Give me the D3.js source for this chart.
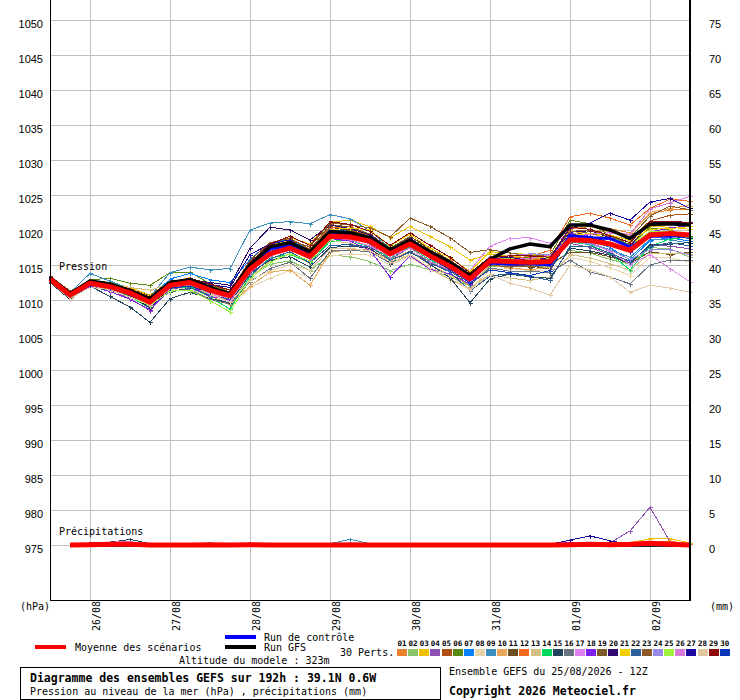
<!DOCTYPE html>
<html><head><meta charset="utf-8">
<script src="https://cdn.jsdelivr.net/npm/d3@7"></script>
<style>
body{margin:0;background:#fff}
svg{display:block}
text{font-family:"DejaVu Sans Mono",monospace;font-size:10px;fill:#000}
</style>
</head><body>
<svg id="c" width="740" height="700"></svg>
<script>
// ---------- DATA ----------
const hours = [0,6,12,18,24,30,36,42,48,54,60,66,72,78,84,90,96,102,108,114,120,126,132,138,144,150,156,162,168,174,180,186,192];
const dateHours = [12,36,60,84,108,132,156,180];
const dateLabels = ["26/08","27/08","28/08","29/08","30/08","31/08","01/09","02/09"];
const pressureTicks = [975,980,985,990,995,1000,1005,1010,1015,1020,1025,1030,1035,1040,1045,1050];
const rainTicks = [0,5,10,15,20,25,30,35,40,45,50,55,60,65,70,75];
const memberNames = ["01","02","03","04","05","06","07","08","09","10","11","12","13","14","15","16","17","18","19","20","21","22","23","24","25","26","27","28","29","30"];
const memberColors = ["#e8822e","#88c46c","#f0c000","#8c50b0","#b05010","#5a8a10","#0080ff","#e8d4a8","#3a8ec0","#e8a858","#6b4f1e","#f26a20","#d4c080","#00d860","#24445e","#687480","#e080f0","#8020f0","#805a28","#300a70","#f0d000","#2a5f9a","#8c5a28","#9a8ae8","#a0f040","#d878d8","#1c0aa0","#e0c8a0","#8a0a0a","#0a38b8"];

const meanPressure = [1013.0,1010.7,1012.4,1011.9,1011.0,1009.7,1012.1,1012.5,1011.4,1010.6,1014.4,1016.6,1017.4,1016.2,1019.1,1019.0,1018.4,1016.6,1018.0,1016.3,1014.8,1013.0,1015.6,1015.5,1015.4,1015.5,1018.6,1018.5,1018.0,1017.1,1019.3,1019.5,1019.3];
const gfsPressure = [1013.2,1010.9,1012.7,1012.3,1011.3,1010.2,1012.5,1012.9,1011.8,1010.9,1015.0,1017.6,1018.2,1016.9,1019.8,1019.6,1018.9,1017.2,1018.5,1016.9,1015.4,1013.5,1015.8,1017.3,1018.0,1017.6,1020.7,1020.7,1020.0,1018.8,1020.8,1020.9,1020.7];
const ctrlPressure = [1013.1,1010.8,1012.4,1012.0,1010.9,1009.9,1012.4,1012.7,1011.5,1010.9,1014.9,1017.3,1017.9,1016.5,1019.5,1019.3,1018.8,1016.8,1018.3,1016.7,1015.0,1013.3,1015.3,1015.1,1015.2,1015.0,1019.2,1018.9,1018.8,1017.6,1019.1,1019.1,1019.3];

const pert01 = [1013.1,1010.5,1012.6,1012.2,1011.2,1010.1,1012.4,1013.0,1012.0,1011.0,1015.2,1017.6,1018.3,1016.9,1019.9,1019.6,1018.9,1017.0,1018.6,1017.1,1015.7,1013.7,1016.0,1016.1,1015.9,1015.8,1020.1,1020.5,1020.2,1019.6,1022.3,1022.9,1022.9];
const pert02 = [1012.8,1010.7,1012.1,1011.7,1010.5,1009.1,1011.7,1012.0,1010.6,1009.4,1013.4,1015.1,1015.6,1014.2,1016.4,1016.2,1015.5,1014.2,1015.1,1014.3,1013.3,1012.0,1014.8,1014.9,1014.9,1014.8,1017.1,1016.7,1015.8,1015.1,1017.5,1017.3,1016.1];
const pert03 = [1013.2,1011.0,1012.8,1012.5,1011.8,1010.7,1012.6,1012.9,1011.9,1011.4,1015.0,1017.8,1018.9,1018.0,1021.1,1021.4,1020.5,1018.9,1020.5,1019.1,1017.6,1015.7,1016.6,1016.3,1016.0,1016.2,1019.9,1019.5,1018.8,1017.6,1020.5,1020.4,1020.1];
const pert04 = [1012.7,1010.3,1012.2,1011.4,1010.2,1008.5,1011.5,1011.8,1010.8,1009.7,1014.1,1016.4,1017.7,1016.7,1019.4,1019.0,1018.0,1015.8,1017.5,1015.4,1014.1,1012.6,1016.1,1016.3,1016.4,1016.1,1018.1,1017.5,1016.5,1015.3,1017.8,1017.7,1017.3];
const pert05 = [1013.3,1010.8,1012.4,1012.1,1011.1,1010.0,1012.3,1012.5,1011.2,1010.7,1014.9,1017.4,1018.6,1017.1,1020.5,1020.0,1019.2,1017.1,1018.7,1016.9,1015.3,1013.3,1015.4,1015.0,1014.8,1015.2,1019.1,1019.4,1019.2,1018.6,1021.3,1022.1,1022.3];
const pert06 = [1013.1,1011.0,1012.9,1013.1,1012.4,1012.1,1013.9,1014.0,1012.3,1011.1,1014.7,1017.2,1017.8,1016.4,1019.6,1019.3,1018.2,1016.8,1017.7,1016.3,1015.1,1013.5,1015.8,1015.9,1016.1,1016.4,1021.4,1020.9,1019.2,1017.9,1020.3,1020.0,1018.8];
const pert07 = [1013.0,1010.9,1012.7,1012.0,1011.3,1010.3,1013.0,1013.8,1012.9,1012.5,1015.8,1018.2,1018.6,1017.1,1020.1,1019.8,1018.9,1016.9,1018.4,1016.5,1014.8,1012.7,1015.2,1015.3,1015.5,1015.2,1018.9,1018.6,1017.5,1015.7,1018.5,1018.9,1018.4];
const pert08 = [1012.6,1010.5,1012.0,1011.3,1010.5,1009.3,1011.5,1011.7,1010.2,1008.8,1011.8,1013.1,1014.2,1013.2,1016.3,1016.6,1016.4,1015.0,1016.2,1014.3,1013.0,1011.5,1014.3,1014.5,1014.2,1014.1,1016.1,1015.5,1014.6,1013.5,1016.1,1016.0,1015.4];
const pert09 = [1013.1,1011.0,1013.8,1012.7,1011.6,1010.5,1013.9,1014.7,1014.3,1014.5,1020.0,1021.0,1021.2,1020.9,1022.2,1021.6,1019.9,1017.4,1018.9,1016.9,1015.2,1013.5,1015.6,1015.2,1015.0,1014.9,1018.6,1018.1,1017.2,1016.1,1018.7,1018.6,1018.1];
const pert10 = [1012.5,1010.1,1012.1,1011.7,1010.7,1009.6,1011.8,1012.1,1010.6,1009.3,1012.0,1014.0,1014.3,1012.1,1016.8,1017.2,1017.2,1015.7,1017.0,1015.0,1013.6,1012.1,1015.0,1014.6,1014.3,1014.7,1019.4,1020.0,1019.8,1019.3,1022.5,1023.1,1023.5];
const pert11 = [1013.2,1010.6,1012.5,1012.3,1011.6,1010.6,1012.7,1012.9,1011.6,1011.1,1014.6,1017.1,1018.1,1016.8,1020.4,1019.9,1019.0,1017.2,1019.0,1017.5,1015.6,1013.4,1016.0,1015.6,1014.6,1015.1,1016.8,1016.8,1016.2,1015.2,1016.9,1016.5,1016.8];
const pert12 = [1013.0,1010.8,1012.3,1011.9,1011.2,1009.8,1012.1,1012.8,1011.5,1010.4,1015.0,1017.6,1018.8,1017.3,1020.3,1020.5,1019.4,1017.3,1018.5,1016.9,1015.6,1013.6,1015.9,1016.0,1016.2,1017.1,1021.9,1022.4,1021.7,1020.7,1023.1,1024.4,1024.1];
const pert13 = [1012.8,1010.3,1011.9,1012.2,1011.8,1011.4,1012.3,1012.3,1011.0,1010.0,1013.2,1015.6,1016.6,1015.2,1018.5,1018.1,1017.2,1015.2,1016.4,1014.6,1012.9,1011.7,1013.7,1013.1,1012.8,1013.3,1016.5,1016.0,1015.2,1014.2,1016.7,1016.7,1016.6];
const pert14 = [1013.1,1010.9,1012.4,1011.6,1010.5,1008.8,1011.6,1011.9,1010.4,1008.7,1013.4,1016.0,1016.5,1015.4,1018.4,1018.5,1017.6,1016.0,1017.6,1015.7,1014.5,1012.9,1015.8,1015.9,1015.6,1016.1,1018.3,1017.9,1016.6,1014.3,1017.7,1018.7,1019.0];
const pert15 = [1012.5,1010.1,1012.0,1010.5,1009.0,1006.8,1010.2,1011.1,1010.2,1009.6,1013.8,1015.7,1016.2,1014.7,1017.5,1017.7,1017.4,1015.2,1017.0,1015.1,1013.2,1009.6,1013.0,1013.7,1013.3,1013.1,1017.4,1017.0,1016.4,1015.2,1017.9,1018.0,1018.2];
const pert16 = [1013.2,1010.7,1012.2,1011.6,1010.6,1009.5,1011.2,1011.5,1010.1,1009.4,1012.6,1014.5,1015.4,1013.1,1017.0,1017.1,1016.9,1015.3,1016.9,1015.5,1014.2,1012.1,1014.6,1014.1,1014.1,1013.9,1015.7,1014.0,1013.3,1012.3,1015.0,1015.7,1015.7];
const pert17 = [1012.9,1010.8,1012.6,1011.8,1010.7,1009.2,1011.9,1012.5,1011.1,1010.1,1014.1,1016.8,1017.9,1016.5,1019.7,1019.4,1018.6,1016.2,1018.3,1016.2,1015.3,1014.2,1017.7,1018.8,1018.9,1018.1,1019.4,1018.3,1016.9,1015.1,1016.5,1014.5,1012.6];
const pert18 = [1012.7,1010.2,1012.0,1011.2,1010.1,1008.6,1011.5,1012.1,1010.5,1010.0,1014.5,1017.0,1018.0,1016.4,1018.8,1018.4,1017.1,1013.3,1016.3,1014.4,1013.7,1012.3,1015.4,1015.4,1015.6,1015.5,1019.5,1019.1,1018.1,1016.8,1019.7,1020.3,1020.6];
const pert19 = [1013.3,1011.1,1012.5,1012.1,1010.9,1009.9,1011.8,1012.3,1011.7,1011.2,1015.7,1018.2,1018.8,1017.2,1020.8,1020.4,1019.4,1017.4,1019.1,1017.2,1015.2,1013.6,1015.0,1014.7,1014.9,1014.4,1019.2,1019.8,1019.9,1018.9,1022.0,1023.4,1022.9];
const pert20 = [1013.2,1010.7,1012.3,1011.7,1010.6,1008.9,1011.8,1012.9,1012.5,1012.1,1017.4,1020.4,1020.0,1018.6,1020.7,1020.2,1019.3,1017.3,1018.8,1016.9,1015.0,1012.6,1015.3,1015.4,1015.7,1016.0,1019.7,1019.9,1018.9,1017.7,1021.1,1021.1,1021.0];
const pert21 = [1013.0,1010.9,1012.8,1012.4,1011.6,1010.5,1012.5,1013.2,1012.0,1011.0,1015.3,1017.9,1018.4,1017.0,1020.0,1020.3,1020.0,1017.7,1019.4,1017.4,1016.0,1014.1,1016.9,1016.7,1016.5,1016.3,1019.2,1019.5,1019.3,1018.5,1020.1,1020.2,1020.5];
const pert22 = [1012.6,1010.4,1011.8,1011.4,1010.7,1009.2,1011.2,1011.7,1010.7,1010.1,1013.5,1015.9,1016.9,1015.3,1017.8,1017.9,1017.6,1015.7,1016.8,1015.3,1014.0,1011.3,1013.4,1013.8,1013.4,1012.8,1017.7,1017.7,1016.7,1015.5,1017.6,1018.2,1017.7];
const pert23 = [1013.4,1011.3,1012.4,1012.2,1011.5,1010.4,1012.5,1012.7,1012.0,1011.5,1014.7,1017.4,1018.5,1017.6,1021.0,1020.7,1020.3,1019.0,1021.7,1020.5,1018.9,1016.8,1017.2,1016.7,1016.3,1016.3,1019.8,1020.0,1019.0,1017.8,1019.6,1019.6,1019.1];
const pert24 = [1012.8,1010.6,1012.5,1011.9,1010.8,1009.4,1012.2,1012.7,1011.3,1010.9,1015.1,1017.1,1017.6,1016.2,1019.5,1019.2,1018.4,1016.9,1018.1,1016.0,1014.2,1013.2,1016.2,1016.3,1016.6,1016.5,1018.4,1018.0,1017.1,1015.8,1017.2,1017.2,1016.4];
const pert25 = [1013.0,1010.5,1012.2,1011.5,1010.4,1009.2,1011.3,1011.4,1009.9,1008.3,1013.0,1015.4,1016.6,1015.6,1018.7,1019.0,1018.9,1017.5,1018.6,1016.8,1015.2,1013.7,1015.8,1016.0,1015.7,1015.9,1018.9,1019.0,1019.0,1017.7,1019.8,1019.7,1018.7];
const pert26 = [1012.9,1010.7,1012.5,1011.8,1010.8,1009.3,1011.8,1012.3,1010.9,1009.8,1013.9,1016.3,1017.3,1015.9,1018.9,1018.6,1017.7,1016.2,1017.4,1015.5,1014.3,1012.8,1015.9,1015.7,1016.0,1016.4,1019.0,1019.4,1019.6,1019.4,1023.0,1023.9,1024.8];
const pert27 = [1013.3,1010.9,1012.7,1012.0,1011.3,1010.2,1012.4,1013.0,1012.2,1011.8,1016.5,1018.0,1018.6,1016.7,1019.9,1019.6,1018.9,1016.9,1018.5,1016.7,1015.2,1013.3,1015.9,1016.1,1015.6,1015.8,1020.3,1021.0,1022.4,1021.4,1024.0,1024.5,1023.1];
const pert28 = [1012.7,1010.2,1011.8,1011.5,1010.4,1009.4,1011.6,1012.2,1010.8,1009.7,1012.8,1014.2,1015.0,1014.3,1017.3,1017.4,1017.0,1015.5,1016.5,1014.6,1013.5,1011.4,1013.6,1012.4,1011.7,1010.7,1015.0,1014.3,1013.3,1011.1,1012.1,1011.7,1011.1];
const pert29 = [1013.2,1010.8,1012.7,1012.3,1011.6,1010.4,1012.6,1013.1,1012.3,1011.4,1015.4,1018.0,1019.1,1017.8,1021.2,1020.8,1019.8,1017.8,1019.6,1017.8,1016.1,1013.9,1016.1,1016.3,1016.3,1016.1,1020.4,1020.1,1019.2,1018.2,1021.2,1021.2,1021.1];
const pert30 = [1012.9,1010.7,1012.2,1011.7,1010.9,1009.8,1011.7,1012.0,1011.1,1010.6,1015.0,1016.9,1017.9,1016.6,1019.3,1019.5,1018.7,1016.8,1018.0,1016.1,1014.3,1012.4,1014.3,1013.9,1013.5,1014.2,1019.0,1019.1,1018.2,1017.0,1019.0,1019.1,1018.8];

// precipitation (mm) for steps 6h..192h
const meanRain = [0,0.05,0.1,0.1,0,0,0,0.05,0,0.05,0,0,0,0,0.05,0,0,0,0,0,0,0,0,0,0,0.05,0.1,0.05,0.1,0.25,0.1,0];
const gfsRain  = [0,0,0,0,0,0,0,0,0,0,0,0,0,0,0,0,0,0,0,0,0,0,0,0,0,0,0,0,0,0,0,0];
const ctrlRain = [0,0,0,0,0,0,0,0,0,0,0,0,0,0,0,0,0,0,0,0,0,0,0,0,0,0.2,0,0,0,0,0,0];
const rain01 = [0,0,0,0,0,0,0,0,0,0,0,0,0,0,0,0,0,0,0,0,0,0,0,0,0,0,0,0,0,0.2,0.5,0.2];
const rain02 = [0,0,0,0,0,0,0,0.3,0.1,0,0,0,0,0,0,0,0,0,0,0,0,0,0,0,0,0,0,0,0,0,0,0];
const rain03 = [0,0,0,0,0,0,0,0,0,0,0,0,0,0,0,0,0,0,0,0,0,0,0,0,0,0,0,0,0.3,0.9,0.9,0.3];
const rain04 = [0,0,0,0,0,0,0,0,0,0,0,0,0,0,0,0,0,0,0,0,0,0,0,0,0,0,0.2,0.3,2.0,5.4,0.5,0];
const rain05 = [0,0,0.2,0.3,0,0,0,0,0,0,0,0,0,0,0,0,0,0,0,0,0,0,0,0,0,0,0,0,0,0,0,0];
const rain06 = [0,0,0,0,0,0,0,0.2,0,0,0,0,0,0.2,0,0,0,0,0,0,0,0,0,0,0,0,0,0,0,0,0,0];
const rain07 = [0,0.2,0.3,0.4,0,0,0,0,0,0,0,0,0,0,0,0,0,0,0,0,0,0,0,0,0,0,0,0,0,0,0,0];
const rain08 = [0,0,0,0,0,0,0,0,0,0,0,0,0,0,0,0,0,0,0,0,0,0,0,0,0,0,0,0,0,0,0,0];
const rain09 = [0,0,0,0,0,0,0,0,0,0,0,0,0,0.2,0.8,0.2,0,0,0,0,0,0,0,0,0,0,0,0,0,0,0,0];
const rain10 = [0,0,0,0,0,0,0,0,0,0,0,0,0,0,0,0,0,0,0,0,0,0,0,0,0,0,0,0,0,0,0,0];
const rain11 = [0,0,0,0,0,0,0,0,0,0,0,0,0,0,0,0,0,0,0,0,0,0,0,0,0,0,0,0,0,0,0,0];
const rain12 = [0,0,0,0,0,0,0,0,0,0,0,0,0,0,0,0,0,0,0,0,0,0,0,0,0,0,0,0,0.2,0.3,0.6,0];
const rain13 = [0,0,0,0,0,0,0,0,0,0,0,0,0,0,0,0,0,0,0,0,0,0,0,0,0,0,0,0,0,0,0,0];
const rain14 = [0,0,0,0,0,0,0.2,0.3,0,0,0,0,0,0,0,0,0,0,0,0,0,0,0,0,0,0,0,0,0,0,0,0];
const rain15 = [0,0.3,0.4,0.8,0.2,0,0,0,0,0,0,0,0,0,0,0,0,0,0,0,0,0,0,0,0,0,0,0,0,0,0,0];
const rain16 = [0,0,0,0,0,0,0,0,0,0,0,0,0,0,0,0,0,0,0,0,0,0,0,0,0,0,0,0,0,0,0,0];
const rain17 = [0,0,0.4,0.5,0,0,0,0,0,0,0,0,0,0,0,0,0,0,0,0,0,0,0,0,0,0,0,0,0.2,0,0,0];
const rain18 = [0,0,0,0,0,0,0,0,0,0,0,0,0,0,0,0,0,0,0,0,0,0,0,0,0,0,0,0,0,0,0,0];
const rain19 = [0,0,0,0,0,0,0,0,0,0,0,0,0,0,0,0,0,0,0,0,0,0,0,0,0,0,0,0,0,0,0,0];
const rain20 = [0,0,0,0,0,0,0,0,0,0.3,0,0,0,0,0,0,0,0,0,0,0,0,0,0,0,0,0,0,0,0,0,0];
const rain21 = [0,0,0,0,0,0,0,0,0,0,0,0,0,0,0,0,0,0,0,0,0,0,0,0,0,0,0,0,0,0,0,0];
const rain22 = [0,0,0,0,0,0,0,0,0,0.2,0.1,0,0,0,0,0,0,0,0,0,0,0,0,0,0,0,0,0,0,0,0,0];
const rain23 = [0,0,0,0,0,0,0,0,0,0,0,0,0,0,0,0,0,0,0,0,0,0,0,0,0,0,0,0,0,0,0,0];
const rain24 = [0,0,0,0,0,0,0,0,0,0,0,0,0,0,0,0,0,0,0,0,0,0,0,0,0,0,0,0,0,0,0,0];
const rain25 = [0,0,0,0,0,0,0,0,0,0,0,0,0,0,0,0,0,0,0,0,0,0,0,0,0,0,0,0,0,0,0,0];
const rain26 = [0,0,0,0,0,0,0,0,0,0,0,0,0,0,0,0,0,0,0,0,0,0,0,0,0,0,0,0,0,0.3,0.4,0];
const rain27 = [0,0,0,0,0,0,0,0,0,0,0,0,0,0,0,0,0,0,0,0,0,0,0,0,0.1,0.7,1.3,0.6,0.1,0,0,0];
const rain28 = [0,0,0,0,0,0,0,0,0,0,0,0,0,0,0,0,0,0,0,0,0,0,0,0,0,0,0,0,0,0,0,0];
const rain29 = [0,0,0,0,0,0,0,0,0,0,0,0,0,0,0,0,0,0,0,0,0,0,0,0,0,0.2,0.3,0,0,0,0,0];
const rain30 = [0,0,0,0,0,0,0,0,0,0,0,0,0,0,0,0,0,0,0,0,0,0,0,0,0,0,0,0,0,0,0,0];

const perts = [pert01,pert02,pert03,pert04,pert05,pert06,pert07,pert08,pert09,pert10,pert11,pert12,pert13,pert14,pert15,pert16,pert17,pert18,pert19,pert20,pert21,pert22,pert23,pert24,pert25,pert26,pert27,pert28,pert29,pert30];
const rains = [rain01,rain02,rain03,rain04,rain05,rain06,rain07,rain08,rain09,rain10,rain11,rain12,rain13,rain14,rain15,rain16,rain17,rain18,rain19,rain20,rain21,rain22,rain23,rain24,rain25,rain26,rain27,rain28,rain29,rain30];

// ---------- CHART ----------
const svg = d3.select("#c");
svg.append("rect").attr("width",740).attr("height",700).attr("fill","#fff");

const x = d3.scaleLinear().domain([0,192]).range([50,690]);
const y = d3.scaleLinear().domain([975,1050]).range([545,20]);
const yMm = d3.scaleLinear().domain([0,75]).range([545,20]);

// grid
const grid = svg.append("g").attr("shape-rendering","crispEdges").attr("stroke","#c0c0c0").attr("stroke-width",1);
grid.selectAll("line.h").data(pressureTicks).join("line")
  .attr("x1",50).attr("x2",690)
  .attr("y1",d=>Math.round(y(d))+0.5).attr("y2",d=>Math.round(y(d))+0.5);
grid.selectAll("line.v").data(dateHours).join("line")
  .attr("y1",0).attr("y2",600)
  .attr("x1",d=>Math.round(x(d))+0.5).attr("x2",d=>Math.round(x(d))+0.5);

// axes labels
const numFont = "Liberation Sans, Arial, sans-serif";
const axL = svg.append("g").attr("transform","translate(50,0)")
  .call(d3.axisLeft(y).tickValues(pressureTicks).tickSize(0).tickPadding(7).tickFormat(d=>String(d)));
axL.select(".domain").remove();
axL.selectAll("text").attr("dy",7).style("font-family",numFont).style("font-size","11px");

const axR = svg.append("g").attr("transform","translate(690,0)")
  .call(d3.axisRight(yMm).tickValues(rainTicks).tickSize(0).tickPadding(19).tickFormat(d=>String(d)));
axR.select(".domain").remove();
axR.selectAll("text").attr("dy",7).style("font-family",numFont).style("font-size","11px");

const axB = svg.append("g").attr("transform","translate(0,600)")
  .call(d3.axisBottom(x).tickValues(dateHours).tickSize(0).tickFormat((d,i)=>dateLabels[i]));
axB.select(".domain").remove();
axB.selectAll("text")
  .attr("transform","rotate(-90)")
  .attr("x",-31).attr("y",9).attr("dy",0)
  .attr("text-anchor","start")
  .style("font-family","DejaVu Sans Mono, monospace").style("font-size","10px");

// data lines
const pLine = d3.line().x((d,i)=>x(hours[i])).y(d=>y(d));
const rLine = d3.line().x((d,i)=>x(hours[i+1])).y(d=>yMm(d));
const marker = "M-2,0H2M0,-2V2";

const data = svg.append("g");
const thin = data.append("g").attr("shape-rendering","crispEdges");
perts.forEach((s,k)=>{
  const col = memberColors[k];
  thin.append("path").attr("d",pLine(s)).attr("fill","none").attr("stroke",col).attr("stroke-width",1);
  thin.append("g").selectAll("path").data(s).join("path")
    .attr("d",marker).attr("transform",(d,i)=>`translate(${Math.round(x(hours[i]))+0.5},${Math.round(y(d))+0.5})`)
    .attr("stroke",col).attr("stroke-width",1).attr("fill","none");
  thin.append("path").attr("d",rLine(rains[k])).attr("fill","none").attr("stroke",col).attr("stroke-width",1);
  thin.append("g").selectAll("path").data(rains[k].map((v,i)=>[v,i]).filter(p=>p[0]>0)).join("path")
    .attr("d",marker).attr("transform",p=>`translate(${Math.round(x(hours[p[1]+1]))+0.5},${Math.round(yMm(p[0]))+0.5})`)
    .attr("stroke",col).attr("stroke-width",1).attr("fill","none");
});

// control, GFS, mean
[[ctrlPressure,ctrlRain,"#0000ff",3],[gfsPressure,gfsRain,"#000000",3.5],[meanPressure,meanRain,"#ff0000",5]].forEach(([p,r,c,w])=>{
  data.append("path").attr("d",pLine(p)).attr("fill","none").attr("stroke",c).attr("stroke-width",w).attr("stroke-linejoin","round");
  data.append("path").attr("d",rLine(r)).attr("fill","none").attr("stroke",c).attr("stroke-width",w).attr("stroke-linejoin","round");
});

// frame
const frame = svg.append("g").attr("shape-rendering","crispEdges").attr("stroke","#000");
frame.append("line").attr("x1",50.5).attr("x2",50.5).attr("y1",0).attr("y2",601).attr("stroke-width",1);
frame.append("line").attr("x1",50).attr("x2",691).attr("y1",600.5).attr("y2",600.5).attr("stroke-width",1);
frame.append("line").attr("x1",690).attr("x2",690).attr("y1",0).attr("y2",601).attr("stroke-width",2);

// in-chart labels
svg.append("text").attr("x",59).attr("y",270).text("Pression");
svg.append("text").attr("x",59).attr("y",535).text("Précipitations");
svg.append("text").attr("x",20).attr("y",610).text("(hPa)");
svg.append("text").attr("x",710).attr("y",610).text("(mm)");

// legend
const leg = svg.append("g");
leg.append("line").attr("x1",35).attr("x2",66).attr("y1",647).attr("y2",647).attr("stroke","#ff0000").attr("stroke-width",4);
leg.append("text").attr("x",75).attr("y",651).text("Moyenne des scénarios");
leg.append("line").attr("x1",225).attr("x2",256).attr("y1",637).attr("y2",637).attr("stroke","#0000ff").attr("stroke-width",4);
leg.append("text").attr("x",264).attr("y",641).text("Run de contrôle");
leg.append("line").attr("x1",225).attr("x2",256).attr("y1",647).attr("y2",647).attr("stroke","#000").attr("stroke-width",4);
leg.append("text").attr("x",264).attr("y",651).text("Run GFS");
leg.append("text").attr("x",340).attr("y",656).text("30 Perts.");
leg.append("text").attr("x",179).attr("y",664).text("Altitude du modele : 323m");

const sw = leg.append("g");
sw.selectAll("rect").data(memberColors).join("rect")
  .attr("x",(d,i)=>397+i*11.13).attr("y",649).attr("width",10).attr("height",7)
  .attr("fill",d=>d).attr("shape-rendering","crispEdges");
sw.selectAll("text").data(memberNames).join("text")
  .attr("x",(d,i)=>402+i*11.13).attr("y",646).attr("text-anchor","middle")
  .style("font-size","7.5px").style("font-weight","bold").text(d=>d);

// title box
svg.append("rect").attr("x",20.5).attr("y",667.5).attr("width",420).attr("height",31.5)
  .attr("fill","none").attr("stroke","#000").attr("shape-rendering","crispEdges");
svg.append("text").attr("x",30).attr("y",682).style("font-weight","bold").style("font-size","11.5px")
  .text("Diagramme des ensembles GEFS sur 192h : 39.1N 0.6W");
svg.append("text").attr("x",30).attr("y",695).text("Pression au niveau de la mer (hPa) , précipitations (mm)");
svg.append("text").attr("x",449).attr("y",675).text("Ensemble GEFS du 25/08/2026 - 12Z");
svg.append("text").attr("x",449).attr("y",695).style("font-weight","bold").style("font-size","11.5px")
  .text("Copyright 2026 Meteociel.fr");
</script>
</body></html>
